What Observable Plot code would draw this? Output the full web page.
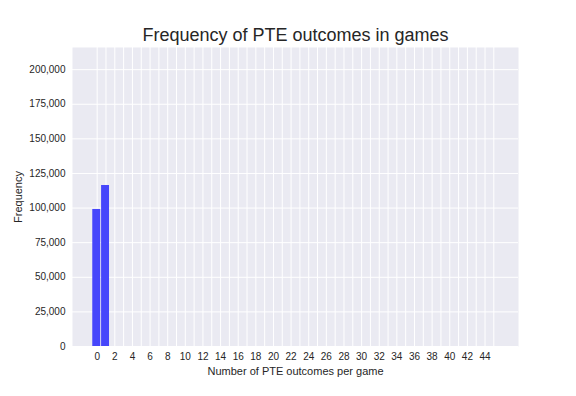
<!DOCTYPE html>
<html>
<head>
<meta charset="utf-8">
<script src="https://cdn.jsdelivr.net/npm/d3@7"></script>
<script src="https://cdn.jsdelivr.net/npm/@observablehq/plot@0.6"></script>
<style>
  html, body { margin: 0; padding: 0; background: #ffffff; }
  g[aria-label="x-axis label"], g[aria-label="y-axis label"],
  text[aria-label="x-axis label"], text[aria-label="y-axis label"] { font-size: 11px; }
</style>
</head>
<body>
<div id="chart"></div>
<script>
const titleText = "Frequency of PTE outcomes in games";
const xLabel = "Number of PTE outcomes per game";
const yLabel = "Frequency";
const outcomes = [0, 1];
const counts = [99000, 116300];
const xTickLabels = d3.range(0, 45, 2);
const xGridLines = d3.range(0, 46);
const yTickLabels = [0, 25000, 50000, 75000, 100000, 125000, 150000, 175000, 200000];

const data = outcomes.map((v, i) => ({v, count: counts[i]}));

const chart = Plot.plot({
  width: 576,
  height: 396,
  marginLeft: 72,
  marginRight: 58,
  marginTop: 47,
  marginBottom: 50,
  style: {fontFamily: "'Liberation Sans', Arial, sans-serif", fontSize: "10px", color: "#262626", background: "#ffffff"},
  x: {domain: [-2.8, 47.8]},
  y: {domain: [0, 216000]},
  marks: [
    Plot.frame({fill: "#EAEAF2", stroke: null}),
    Plot.gridX({ticks: xGridLines, stroke: "#ffffff", strokeOpacity: 1, strokeWidth: 1}),
    Plot.gridY({ticks: yTickLabels, stroke: "#ffffff", strokeOpacity: 1, strokeWidth: 1}),
    Plot.rectY(data, {x1: d => d.v - 0.5, x2: d => d.v + 0.4, y: "count", fill: "rgb(70,70,251)"}),
    Plot.axisX({ticks: xTickLabels, tickSize: 0, tickPadding: 6, tickFormat: d => String(d), label: null, fontSize: 10}),
    Plot.axisY({ticks: yTickLabels, tickSize: 0, tickPadding: 7, tickFormat: d3.format(","), label: null, fontSize: 10}),
    Plot.text([xLabel], {frameAnchor: "bottom", dy: 25, lineAnchor: "middle", fontSize: 11, fill: "#262626", text: d => d}),
    Plot.axisY({ticks: [], tickSize: 0, label: yLabel, labelAnchor: "center", labelOffset: 58, labelArrow: "none", fontSize: 11}),
    Plot.text([titleText], {frameAnchor: "top", dy: -7, lineAnchor: "bottom", fontSize: 18, fill: "#262626", text: d => d})
  ]
});
document.getElementById("chart").appendChild(chart);
</script>
</body>
</html>
